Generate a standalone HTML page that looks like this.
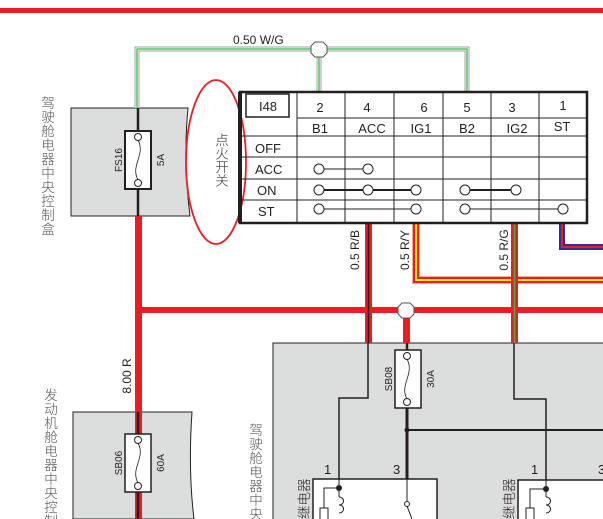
<!DOCTYPE html>
<html><head><meta charset="utf-8"><style>
html,body{margin:0;padding:0;background:#fff;width:603px;height:519px;overflow:hidden}
svg{display:block}
text{font-family:"Liberation Sans","Noto Sans CJK SC",sans-serif;fill:#231f20}
.cj{font-family:"Noto Sans CJK SC","WenQuanYi Zen Hei",sans-serif;fill:#555;font-size:13.5px;font-weight:300}
</style></head><body>
<svg width="603" height="519" viewBox="0 0 603 519" xmlns="http://www.w3.org/2000/svg">
<rect x="0" y="8" width="603" height="5" fill="#ed1c24"/>

<path d="M71 108 H188 Q183 160 190 216 H71 Z" fill="#dcdddd" stroke="#231f20" stroke-width="1"/>
<path d="M73 412 H192 Q188 470 194 519 H73 Z" fill="#dcdddd" stroke="#231f20" stroke-width="1"/>
<rect x="273" y="343" width="340" height="190" fill="#dcdddd" stroke="#231f20" stroke-width="1"/>

<g fill="none">
<path d="M137 108 V49 H467 V92" stroke="#a0a0a0" stroke-width="5"/>
<path d="M137 108 V49 H467 V92" stroke="#fff" stroke-width="3"/>
<path d="M137 108 V49 H467 V92" stroke="#39b54a" stroke-width="1.3"/>
<path d="M319 49 V92" stroke="#a0a0a0" stroke-width="5"/>
<path d="M319 49 V92" stroke="#fff" stroke-width="3"/>
<path d="M319 49 V92" stroke="#39b54a" stroke-width="1.3"/>
</g>
<polygon points="315,42 323,42 327,46 327,53 323,57 315,57 311,53 311,46" fill="#fff" stroke="#555" stroke-width="1"/>
<text x="233" y="44" font-size="12">0.50  W/G</text>

<line x1="138" y1="108" x2="138" y2="216" stroke="#231f20" stroke-width="2.5"/>
<rect x="125" y="131" width="26" height="58" fill="#fff" stroke="#231f20" stroke-width="2"/>
<circle cx="138" cy="137" r="3.5" fill="#fff" stroke="#231f20"/>
<circle cx="138" cy="183" r="3.5" fill="#fff" stroke="#231f20"/>
<path d="M138 140 C146 155 130 165 138 180" fill="none" stroke="#231f20" stroke-width="0.8"/>
<text transform="translate(122,160) rotate(-90)" font-size="10" text-anchor="middle">FS16</text>
<text transform="translate(164,160) rotate(-90)" font-size="10" text-anchor="middle">5A</text>
<text class="cj" x="48" y="96" style="writing-mode:vertical-rl;letter-spacing:0.5px">驾驶舱电器中央控制盒</text>

<rect x="135" y="216" width="7" height="303" fill="#ed1c24"/>
<rect x="135" y="307" width="468" height="6" fill="#ed1c24"/>
<text transform="translate(131,376) rotate(-90)" font-size="12" text-anchor="middle">8.00  R</text>

<rect x="365" y="223" width="7" height="120" fill="#ed1c24"/>
<line x1="368.5" y1="223" x2="368.5" y2="343" stroke="#231f20" stroke-width="1.5"/>
<text transform="translate(359,250) rotate(-90)" font-size="12" text-anchor="middle">0.5  R/B</text>
<path d="M416 223 V280 H603" fill="none" stroke="#f7a9a8" stroke-width="8"/>
<path d="M416 223 V280 H603" fill="none" stroke="#ed1c24" stroke-width="6"/>
<path d="M416 223 V280 H603" fill="none" stroke="#fff200" stroke-width="2"/>
<text transform="translate(409,250) rotate(-90)" font-size="12" text-anchor="middle">0.5  R/Y</text>
<rect x="511" y="223" width="7" height="120" fill="#ed1c24"/>
<line x1="514.5" y1="223" x2="514.5" y2="343" stroke="#39b54a" stroke-width="1.5"/>
<text transform="translate(508,250) rotate(-90)" font-size="12" text-anchor="middle">0.5  R/G</text>
<path d="M562 223 V247 H603" fill="none" stroke="#2e3192" stroke-width="6"/>
<path d="M562 223 V247 H603" fill="none" stroke="#ed1c24" stroke-width="2"/>

<rect x="403" y="313" width="7" height="30" fill="#ed1c24"/>
<polygon points="402,303 410,303 414,307 414,314 410,318 402,318 398,314 398,307" fill="#fff" stroke="#555" stroke-width="1"/>

<ellipse cx="216" cy="162" rx="30" ry="82" fill="none" stroke="#ed1c24" stroke-width="1.8"/>
<text class="cj" x="222" y="133" style="writing-mode:vertical-rl;fill:#333">点火开关</text>

<g stroke="#231f20" fill="none">
<rect x="240" y="92" width="347" height="131" stroke-width="2.5"/>
<line x1="240" y1="92" x2="240" y2="223" stroke-width="4"/>
<line x1="297" y1="118" x2="587" y2="118" stroke-width="1"/>
<line x1="240" y1="136" x2="587" y2="136" stroke-width="1"/>
<line x1="240" y1="157" x2="587" y2="157" stroke-width="1"/>
<line x1="240" y1="179" x2="587" y2="179" stroke-width="1"/>
<line x1="240" y1="200" x2="587" y2="200" stroke-width="1"/>
<line x1="297" y1="92" x2="297" y2="223"/>
<line x1="345" y1="92" x2="345" y2="223"/>
<line x1="394" y1="92" x2="394" y2="223"/>
<line x1="443" y1="92" x2="443" y2="223"/>
<line x1="491" y1="92" x2="491" y2="223"/>
<line x1="539" y1="92" x2="539" y2="223"/>
<rect x="246" y="94" width="43" height="23" stroke-width="1.5"/>
<line x1="319" y1="169" x2="368" y2="169" stroke-width="1"/>
<line x1="319" y1="190" x2="416" y2="190" stroke-width="2"/>
<line x1="465" y1="190" x2="516" y2="190" stroke-width="2"/>
<line x1="319" y1="209" x2="416" y2="209" stroke-width="1"/>
<line x1="465" y1="209" x2="563" y2="209" stroke-width="1"/>
</g>
<g fill="#fff" stroke="#231f20" stroke-width="1">
<circle cx="319" cy="169" r="5"/><circle cx="368" cy="169" r="5"/>
<circle cx="319" cy="190" r="5"/><circle cx="368" cy="190" r="5"/><circle cx="416" cy="190" r="5"/>
<circle cx="465" cy="190" r="5"/><circle cx="516" cy="190" r="5"/>
<circle cx="319" cy="209" r="5"/><circle cx="416" cy="209" r="5"/>
<circle cx="465" cy="209" r="5"/><circle cx="563" cy="209" r="5"/>
</g>
<g font-size="13" text-anchor="middle">
<text x="268" y="111">I48</text>
<text x="320" y="112">2</text><text x="367" y="112">4</text><text x="424" y="112">6</text>
<text x="467" y="112">5</text><text x="512" y="112">3</text><text x="563" y="110">1</text>
<text x="320" y="133">B1</text><text x="372" y="133">ACC</text><text x="421" y="133">IG1</text>
<text x="467" y="133">B2</text><text x="517" y="133">IG2</text><text x="562" y="131">ST</text>
</g>
<g font-size="13">
<text x="255" y="153">OFF</text><text x="255" y="174">ACC</text>
<text x="257" y="195">ON</text><text x="258" y="216">ST</text>
</g>

<g stroke="#231f20" fill="none" stroke-width="1.5">
<path d="M368 343 V398 H339 V486"/>
<path d="M514 343 V399 H546 V490"/>
<line x1="407" y1="430" x2="603" y2="430" stroke-width="2"/>
<line x1="407" y1="343" x2="407" y2="350" stroke-width="2.5"/>
<line x1="407" y1="408" x2="407" y2="480" stroke-width="3"/>
</g>
<circle cx="407" cy="430" r="2.5" fill="#231f20"/>
<rect x="395" y="350" width="26" height="58" fill="#fff" stroke="#231f20" stroke-width="1.5"/>
<circle cx="407" cy="356" r="3.5" fill="#fff" stroke="#231f20"/>
<circle cx="407" cy="402" r="3.5" fill="#fff" stroke="#231f20"/>
<path d="M407 359 C415 374 399 385 407 399" fill="none" stroke="#231f20" stroke-width="0.8"/>
<text transform="translate(392,379) rotate(-90)" font-size="10" text-anchor="middle">SB08</text>
<text transform="translate(434,379) rotate(-90)" font-size="10" text-anchor="middle">30A</text>
<text class="cj" x="256" y="423" style="writing-mode:vertical-rl;letter-spacing:0.5px">驾驶舱电器中央</text>

<rect x="313" y="479" width="124" height="50" fill="#fff" stroke="#231f20" stroke-width="1.5"/>
<rect x="518" y="480" width="100" height="50" fill="#fff" stroke="#231f20" stroke-width="1.5"/>
<g stroke="#231f20" fill="none" stroke-width="1">
<line x1="339" y1="479" x2="339" y2="497"/>
<path d="M339 488 H324 V519"/>
<path d="M339 497 c6 0 6 8 0 8 c6 0 6 8 0 8"/>
<line x1="407" y1="479" x2="407" y2="501"/>
<line x1="407" y1="506" x2="412" y2="519"/>
<line x1="546" y1="480" x2="546" y2="497"/>
<path d="M546 489 H530 V519"/>
<path d="M546 497 c6 0 6 8 0 8 c6 0 6 8 0 8"/>
</g>
<rect x="320" y="508" width="8" height="15" fill="#fff" stroke="#231f20"/>
<rect x="526" y="508" width="8" height="15" fill="#fff" stroke="#231f20"/>
<circle cx="339" cy="488" r="3" fill="#231f20"/>
<circle cx="546" cy="489" r="3" fill="#231f20"/>
<circle cx="407" cy="504" r="2.5" fill="#fff" stroke="#231f20"/>
<g font-size="13">
<text x="324" y="474">1</text><text x="393" y="474">3</text>
<text x="531" y="474">1</text><text x="598" y="474">3</text>
</g>
<text class="cj" transform="translate(309,519) rotate(-90)" style="fill:#231f20">继电器</text>
<text class="cj" transform="translate(514,519) rotate(-90)" style="fill:#231f20">继电器</text>

<line x1="138" y1="412" x2="138" y2="519" stroke="#231f20" stroke-width="2.5"/>
<rect x="125" y="434" width="26" height="58" fill="#fff" stroke="#231f20" stroke-width="1.5"/>
<circle cx="138" cy="440" r="3.5" fill="#fff" stroke="#231f20"/>
<circle cx="138" cy="486" r="3.5" fill="#fff" stroke="#231f20"/>
<path d="M138 443 C146 458 130 468 138 483" fill="none" stroke="#231f20" stroke-width="0.8"/>
<text transform="translate(122,463) rotate(-90)" font-size="10" text-anchor="middle">SB06</text>
<text transform="translate(164,463) rotate(-90)" font-size="10" text-anchor="middle">60A</text>
<text class="cj" x="51" y="388" style="writing-mode:vertical-rl;letter-spacing:0.5px">发动机舱电器中央控制</text>
</svg>
</body></html>
